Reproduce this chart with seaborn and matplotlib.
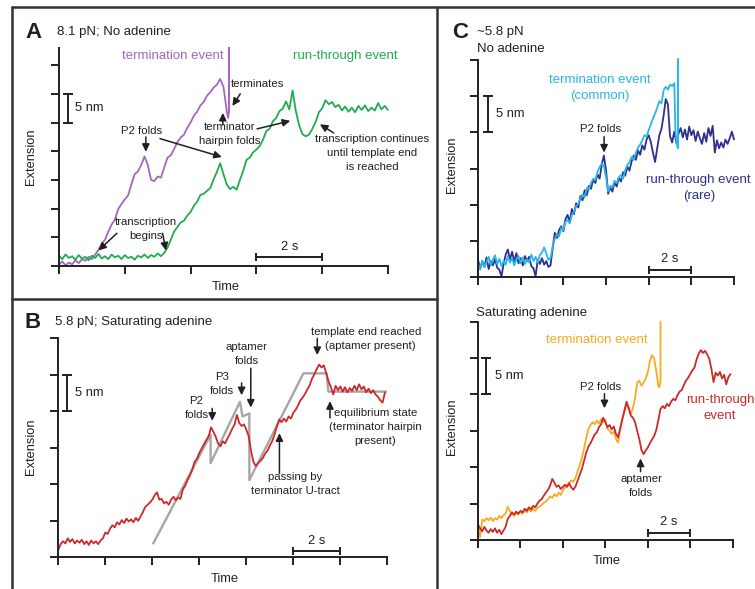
import numpy as np
import matplotlib.pyplot as plt
from matplotlib.lines import Line2D
import seaborn as sns

sns.set_style("ticks")
plt.rcParams['font.family'] = ['Liberation Sans', 'DejaVu Sans']

DT = 0.1  # sampling step of the traces (s)
INK = '#231f20'

# ---- panel A: 8.1 pN, no adenine (nm) ----
a_term_y = [0.2, 0.8, 0.1, 0.6, 0.3, 1.0, 0.5, 1.2, 0.9, 1.6,
            1.2, 2.0, 2.8, 3.9, 4.6, 6.0, 7.2, 8.1, 9.9, 10.8,
            11.6, 12.3, 14.2, 16.0, 16.5, 17.6, 19.1, 17.6, 15.0, 14.8,
            15.6, 15.4, 17.2, 18.9, 19.3, 20.4, 21.6, 22.4, 22.9, 24.1,
            25.0, 26.2, 26.9, 28.0, 28.6, 29.7, 30.3, 31.1, 31.6, 32.6,
            31.2, 27.0]
a_term_tail_t = [5.14, 5.17, 5.17, 5.17]
a_term_tail_y = [25.8, 27.0, 38.0, 27.0]
a_run_y = [1.8, 1.2, 2.0, 1.4, 1.7, 1.1, 1.9, 1.3, 1.6, 1.0,
           1.8, 1.4, 2.1, 1.3, 1.7, 1.2, 2.0, 1.5, 1.8, 1.2,
           1.9, 1.4, 1.6, 1.1, 1.8, 1.5, 2.0, 1.4, 1.9, 1.6,
           2.2, 1.7, 2.3, 3.2, 4.6, 6.0, 6.8, 7.6, 7.9, 8.8,
           9.4, 10.5, 11.2, 12.4, 12.6, 13.1, 13.6, 15.1, 16.4, 17.9,
           16.0, 14.2, 13.4, 13.8, 13.3, 15.0, 16.6, 18.5, 18.9, 19.8,
           20.3, 20.9, 22.0, 23.5, 23.9, 25.2, 25.8, 27.0, 27.4, 28.7,
           27.3, 30.6, 27.0, 24.5, 23.0, 22.6, 22.9, 23.9, 25.1, 26.8,
           27.5, 28.9, 28.2, 28.6, 27.7, 28.1, 27.1, 27.8, 26.9, 27.6,
           26.8, 27.9, 27.2, 28.0, 27.0, 27.6, 27.1, 28.4, 27.3, 27.9,
           27.2]

# ---- panel B: 5.8 pN, saturating adenine ----
b_trace_y = [1.0, 1.8, 2.2, 1.9, 2.6, 2.1, 2.5, 1.9, 2.3, 2.0,
             2.4, 1.8, 2.2, 1.7, 2.3, 1.9, 2.2, 1.8, 2.3, 2.6,
             3.4, 3.2, 3.9, 4.4, 4.1, 4.8, 4.5, 5.1, 4.7, 5.3,
             4.9, 5.2, 4.8, 5.4, 5.0, 5.6, 6.2, 6.9, 7.2, 7.5,
             7.9, 8.5, 8.9, 7.9, 8.0, 7.4, 7.6, 7.2, 7.9, 8.3,
             7.8, 8.2, 8.0, 9.3, 9.8, 10.6, 11.2, 12.0, 13.1, 13.5,
             14.3, 14.9, 15.5, 16.1, 16.6, 17.8, 17.2, 16.5, 15.6, 15.2,
             15.9, 15.6, 16.3, 16.9, 17.6, 18.2, 19.5, 18.4, 18.0, 18.2,
             17.5, 16.6, 14.6, 13.1, 12.5, 12.9, 13.2, 13.6, 14.2, 14.6,
             15.3, 15.9, 16.8, 17.9, 18.9, 18.5, 19.0, 18.6, 19.3, 19.0,
             19.8, 20.2, 20.8, 21.5, 21.9, 22.4, 23.0, 23.6, 24.5, 25.1,
             25.8, 26.4, 26.0, 26.3, 25.2, 24.1, 23.3, 22.3, 23.5, 22.9,
             23.4, 22.7, 23.3, 22.6, 23.2, 22.8, 23.5, 22.9, 23.7, 23.0,
             23.4, 22.6, 23.1, 22.5, 22.9, 22.3, 22.0, 21.5, 21.2, 22.6]
b_model_t = [4.04, 6.48, 6.48, 7.73, 7.84, 8.13, 8.13, 10.43, 11.42, 11.49, 13.97]
b_model_y = [1.9, 16.8, 12.9, 21.3, 19.3, 19.7, 10.6, 25.2, 25.2, 22.7, 22.7]

# ---- panel C top: ~5.8 pN, no adenine ----
c1_term_y = [1.9, 1.0, 2.3, 1.4, 2.0, 2.8, 1.6, 2.4, 3.0, 1.8,
             2.5, 1.5, 2.2, 1.7, 2.9, 2.0, 2.6, 1.6, 2.5, 2.9,
             1.9, 2.7, 1.8, 2.4, 2.0, 3.1, 2.2, 2.8, 2.0, 3.0,
             3.4, 4.1, 3.3, 2.4, 2.6, 4.2, 5.3, 5.9, 5.6, 6.8,
             6.4, 7.6, 7.9, 7.4, 8.6, 9.0, 9.8, 10.1, 10.9, 11.4,
             11.0, 12.3, 12.1, 13.0, 13.6, 13.4, 14.5, 15.2, 15.7, 15.4,
             13.8, 11.8, 12.6, 12.4, 13.3, 13.0, 13.8, 14.1, 13.6, 14.8,
             15.5, 15.9, 16.6, 16.2, 17.2, 17.9, 18.3, 18.9, 19.6, 19.4,
             20.3, 21.1, 21.9, 22.6, 23.4, 24.3, 24.0, 25.8, 26.3, 25.9,
             26.6, 26.4, 26.8]
c1_term_tail_t = [9.25, 9.3, 9.37, 9.37, 9.37]
c1_term_tail_y = [20.5, 18.6, 17.8, 30.1, 18.4]
c1_run_y = [2.4, 1.2, 2.1, 1.4, 2.7, 1.1, 2.2, 1.6, 2.5, 1.3,
            1.0, 0.1, 1.8, 3.1, 3.8, 2.4, 3.5, 2.1, 3.3, 1.9,
            2.6, 1.6, 2.9, 2.2, 2.8, 1.5, 1.2, 0.1, 2.4, 1.8,
            2.6, 1.7, 2.2, 1.4, 1.6, 4.0, 6.1, 5.4, 6.5, 7.0,
            6.3, 8.0, 8.6, 7.6, 9.4, 8.7, 10.2, 9.6, 11.2, 10.6,
            12.0, 11.3, 12.6, 12.2, 13.5, 13.0, 14.2, 13.6, 15.5, 16.8,
            14.8, 11.5, 12.4, 11.8, 13.1, 12.5, 13.7, 13.2, 14.5, 14.0,
            15.3, 14.7, 16.0, 16.8, 16.2, 17.5, 16.9, 18.2, 17.6, 19.0,
            19.6, 18.7, 17.2, 15.9, 17.8, 19.6, 20.5, 22.3, 24.6, 23.9,
            19.5, 18.6, 20.1, 18.5, 19.8, 20.6, 19.3, 20.4, 19.0, 20.8,
            19.6, 20.3, 18.8, 20.1, 19.2, 18.4, 19.9, 18.7, 20.6, 19.5,
            20.9, 17.2, 18.9, 17.8, 18.6, 17.9, 19.0, 18.4, 19.2, 20.1,
            19.0]

# ---- panel C bottom: saturating adenine ----
c2_term_y = [2.3, 0.4, 2.8, 2.6, 3.0, 2.7, 3.1, 2.6, 3.0, 2.8,
             3.3, 3.0, 3.4, 3.6, 4.6, 4.0, 3.6, 3.3, 3.7, 3.5,
             3.9, 3.6, 4.1, 3.8, 4.2, 3.9, 4.3, 4.0, 4.4, 4.6,
             4.8, 5.1, 5.3, 5.6, 6.0, 5.8, 6.3, 6.0, 6.5, 6.2,
             6.8, 7.2, 7.6, 7.9, 8.2, 8.0, 8.6, 9.5, 10.4, 11.3,
             12.6, 14.0, 15.2, 15.8, 16.2, 15.9, 16.4, 16.0, 16.6, 16.2,
             16.5, 15.3, 15.0, 14.6, 14.9, 13.9, 13.4, 15.2, 16.6, 17.6,
             18.6, 18.0, 17.3, 18.1, 19.5, 21.6, 21.9, 21.2, 21.6, 22.2,
             23.0, 24.6, 25.4, 25.0, 23.2, 21.2]
c2_term_tail_t = [8.55, 8.6, 8.6]
c2_term_tail_y = [21.0, 21.8, 30.0]
c2_run_y = [2.1, 1.6, 1.2, 1.8, 1.3, 1.0, 1.5, 1.1, 1.6, 1.0,
            1.4, 0.8, 1.3, 1.8, 2.9, 3.3, 3.8, 3.5, 3.9, 3.6,
            4.0, 3.8, 4.3, 4.0, 4.5, 4.2, 4.7, 4.5, 5.0, 5.4,
            5.6, 6.1, 6.5, 6.9, 7.5, 8.4, 7.9, 7.3, 7.5, 7.0,
            7.3, 7.6, 7.3, 7.8, 7.2, 6.9, 7.4, 8.2, 9.0, 9.8,
            10.9, 12.0, 12.8, 13.3, 13.9, 14.5, 14.8, 15.5, 15.9, 16.8,
            16.2, 15.5, 15.8, 15.2, 15.6, 14.6, 14.1, 15.3, 16.6, 17.8,
            19.0, 18.2, 17.1, 16.8, 16.2, 15.0, 13.9, 12.4, 11.8, 12.3,
            12.7, 13.3, 13.8, 14.3, 15.1, 16.5, 18.0, 18.4, 18.1, 18.7,
            18.4, 19.0, 19.4, 19.2, 19.9, 20.4, 20.6, 21.3, 21.9, 22.3,
            22.8, 23.3, 23.7, 24.8, 25.6, 26.1, 25.7, 26.0, 25.5, 24.9,
            23.5, 21.7, 23.0, 22.6, 23.1, 22.2, 22.7, 21.4, 22.4, 22.8]

PURPLE = '#a466c2'
GREEN = '#1fae4f'
RED = '#cc2a2a'
GREY = '#a6a6a6'
CYAN = '#29b6ea'
NAVY = '#2e2f8f'
ORANGE = '#f8aa22'

W, H = 755, 589
fig = plt.figure(figsize=(W / 100, H / 100), dpi=100)


def ftext(px, py, s, **kw):
    fig.text(px / W, 1 - py / H, s, **kw)


def trace(ax, y, color, tail_t=(), tail_y=(), lw=1.3):
    t = list(np.round(np.arange(len(y)) * DT, 2)) + list(tail_t)
    sns.lineplot(x=t, y=list(y) + list(tail_y), ax=ax, color=color, lw=lw,
                 sort=False, estimator=None, clip_on=False)


def style(ax, xmax, ymax, ytick_max):
    ax.set_xlim(0, xmax)
    ax.set_ylim(0, ymax)
    ax.set_xticks(np.arange(0, xmax + 0.01, 2))
    ax.set_yticks(np.arange(0, ytick_max + 0.01, 5))
    ax.set_xticklabels([])
    ax.set_yticklabels([])
    sns.despine(ax=ax)
    for s in ['left', 'bottom']:
        ax.spines[s].set_linewidth(1.4)
        ax.spines[s].set_color(INK)
    ax.tick_params(length=5.5, width=1.4, color=INK)
    ax.set_ylabel('Extension', fontsize=9.3, color=INK)


def bars(ax, vx, vy0, vy1, hy, hx0, hx1, nm_x, s_y):
    ax.plot([vx, vx], [vy0, vy1], color=INK, lw=1.4, marker='_', ms=7, mew=1.4)
    ax.text(nm_x, (vy0 + vy1) / 2, '5 nm', fontsize=9.3, color=INK, va='center', ha='left')
    ax.plot([hx0, hx1], [hy, hy], color=INK, lw=1.4, marker='|', ms=6, mew=1.4)
    ax.text((hx0 + hx1) / 2, s_y, '2 s', fontsize=9.3, color=INK, va='center', ha='center')


def arrow(ax, start, end):
    ax.annotate('', xy=end, xytext=start,
                arrowprops=dict(arrowstyle='-|>,head_length=0.45,head_width=0.22',
                                color=INK, lw=1.1, shrinkA=0, shrinkB=0))


def note(ax, x, y, s, **kw):
    ax.text(x, y, s, fontsize=8.2, color=INK, ha='center', va='center',
            linespacing=1.5, **kw)


# ---------------- panel A ----------------
axA = fig.add_axes([0.0781, 0.5484, 0.4358, 0.3701])
trace(axA, a_term_y, PURPLE, a_term_tail_t, a_term_tail_y)
trace(axA, a_run_y, GREEN)
style(axA, 10, 38, 35)
axA.yaxis.set_label_coords(-0.067, 0.5)
axA.set_xlabel('Time', fontsize=9.3, color=INK)
axA.xaxis.set_label_coords(0.508, -0.07)
bars(axA, 0.28, 25, 30, 1.6, 6, 8, 0.49, 3.3)
axA.text(3.47, 36.6, 'termination event', color=PURPLE, fontsize=9.5, ha='center', va='center')
axA.text(8.71, 36.6, 'run-through event', color=GREEN, fontsize=9.5, ha='center', va='center')
note(axA, 6.03, 31.7, 'terminates')
arrow(axA, (5.51, 30.0), (5.27, 27.9))
note(axA, 5.2, 23.0, 'terminator\nhairpin folds')
arrow(axA, (4.98, 24.6), (4.98, 26.7))
arrow(axA, (6.02, 23.9), (7.03, 25.3))
note(axA, 2.52, 23.6, 'P2 folds')
arrow(axA, (2.64, 22.5), (2.64, 19.9))
arrow(axA, (3.07, 22.2), (4.95, 19.0))
note(axA, 9.52, 19.7, 'transcription continues\nuntil template end\nis reached')
arrow(axA, (8.35, 23.2), (7.93, 24.7))
note(axA, 2.64, 6.4, 'transcription\nbegins')
arrow(axA, (1.76, 5.7), (1.2, 2.7))
arrow(axA, (3.15, 5.7), (3.25, 2.7))

# ---------------- panel B ----------------
axB = fig.add_axes([0.0772, 0.0538, 0.4358, 0.3718])
sns.lineplot(x=b_model_t, y=b_model_y, ax=axB, color=GREY, lw=1.7,
             sort=False, estimator=None)
trace(axB, b_trace_y, RED)
style(axB, 14, 30, 30)
axB.yaxis.set_label_coords(-0.066, 0.505)
axB.set_xlabel('Time', fontsize=9.3, color=INK)
axB.xaxis.set_label_coords(0.507, -0.072)
bars(axB, 0.36, 20, 25, 0.87, 10, 12, 0.71, 2.3)
note(axB, 5.88, 20.5, 'P2\nfolds')
arrow(axB, (6.55, 20.4), (6.55, 18.7))
note(axB, 6.95, 23.8, 'P3\nfolds')
arrow(axB, (7.8, 23.9), (7.8, 22.2))
note(axB, 8.02, 27.8, 'aptamer\nfolds')
arrow(axB, (8.19, 25.9), (8.19, 20.5))
note(axB, 13.1, 30.8, 'template end reached')
note(axB, 13.27, 28.9, '(aptamer present)')
arrow(axB, (11.02, 30.0), (11.02, 27.7))
note(axB, 13.5, 17.9, 'equilibrium state\n(terminator hairpin\npresent)')
arrow(axB, (11.56, 19.1), (11.56, 21.4))
note(axB, 10.09, 10.1, 'passing by\nterminator U-tract')
arrow(axB, (9.41, 11.5), (9.41, 17.0))

# ---------------- panel C top ----------------
axC1 = fig.add_axes([0.6331, 0.5297, 0.3391, 0.3684])
trace(axC1, c1_run_y, NAVY)
trace(axC1, c1_term_y, CYAN, c1_term_tail_t, c1_term_tail_y)
style(axC1, 12, 30, 30)
axC1.yaxis.set_label_coords(-0.077, 0.516)
bars(axC1, 0.48, 20, 25, 0.92, 8, 10, 0.83, 2.5)
axC1.text(5.71, 26.1, 'termination event\n(common)', color=CYAN, fontsize=9.5,
          ha='center', va='center', linespacing=1.45)
axC1.text(10.35, 12.35, 'run-through event\n(rare)', color=NAVY, fontsize=9.5,
          ha='center', va='center', linespacing=1.45)
note(axC1, 5.75, 20.4, 'P2 folds')
arrow(axC1, (5.91, 19.4), (5.91, 17.2))

# ---------------- panel C bottom ----------------
axC2 = fig.add_axes([0.6331, 0.0832, 0.3373, 0.3706])
trace(axC2, c2_term_y, ORANGE, c2_term_tail_t, c2_term_tail_y)
trace(axC2, c2_run_y, RED)
style(axC2, 12, 30, 30)
axC2.yaxis.set_label_coords(-0.079, 0.52)
axC2.set_xlabel('Time', fontsize=9.3, color=INK)
axC2.xaxis.set_label_coords(0.505, -0.068)
bars(axC2, 0.4, 20, 25, 1.0, 8, 10, 0.8, 2.5)
axC2.text(5.6, 27.5, 'termination event', color=ORANGE, fontsize=9.5, ha='center', va='center')
axC2.text(11.4, 18.2, 'run-through\nevent', color=RED, fontsize=9.5,
          ha='center', va='center', linespacing=1.45, clip_on=False)
note(axC2, 5.79, 21.0, 'P2 folds')
arrow(axC2, (5.96, 20.1), (5.96, 18.1))
note(axC2, 7.7, 7.45, 'aptamer\nfolds')
arrow(axC2, (7.66, 9.4), (7.66, 11.2))

# ---------------- panel titles and frame ----------------
ftext(33, 32, 'A', fontsize=16, fontweight='bold', color=INK, ha='center', va='center')
ftext(57, 32, '8.1 pN; No adenine', fontsize=9.5, color=INK, va='center')
ftext(33, 322, 'B', fontsize=16, fontweight='bold', color=INK, ha='center', va='center')
ftext(55, 322, '5.8 pN; Saturating adenine', fontsize=9.5, color=INK, va='center')
ftext(460, 32, 'C', fontsize=16, fontweight='bold', color=INK, ha='center', va='center')
ftext(477, 32, '~5.8 pN', fontsize=9.5, color=INK, va='center')
ftext(477, 49, 'No adenine', fontsize=9.5, color=INK, va='center')
ftext(476, 313, 'Saturating adenine', fontsize=9.5, color=INK, va='center')

frame = [((12, 7), (W, 7)), ((12, 7), (12, H)), ((437, 7), (437, H)), ((12, 299), (437, 299))]
for (x0, y0), (x1, y1) in frame:
    fig.add_artist(Line2D([x0 / W, x1 / W], [1 - y0 / H, 1 - y1 / H],
                          color='#333333', lw=1.8, transform=fig.transFigure))

fig.savefig('out.png', dpi=100)
